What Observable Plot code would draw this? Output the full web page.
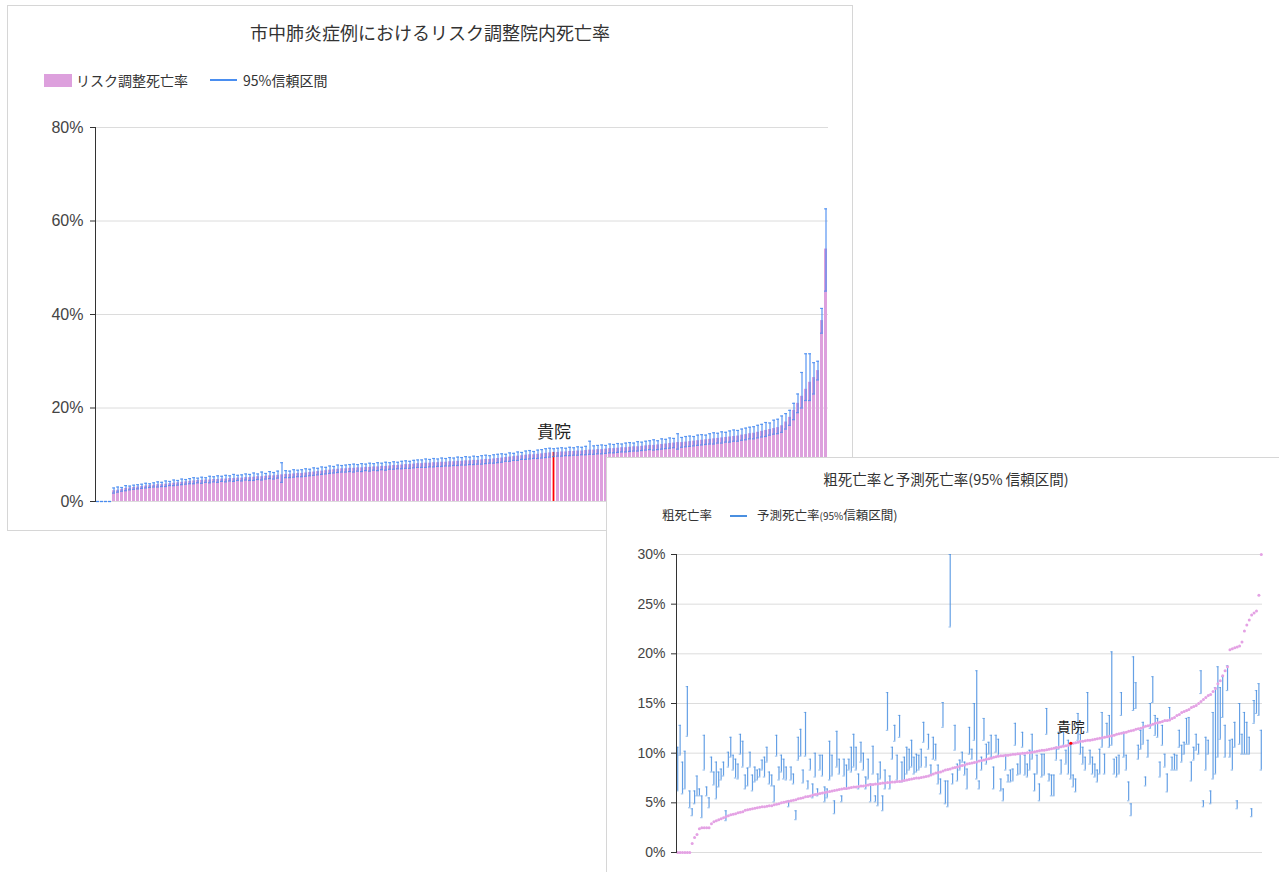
<!DOCTYPE html>
<html><head><meta charset="utf-8">
<script src="https://cdn.jsdelivr.net/npm/d3@7"></script>
<script src="https://cdn.jsdelivr.net/npm/@observablehq/plot@0.6"></script>
<style>
body{margin:0;background:#fff;font-family:"Noto Sans CJK JP","Noto Sans",sans-serif;}
#page{position:relative;width:1279px;height:872px;overflow:hidden;background:#fff;}
.card{position:absolute;background:#fff;border:1px solid #d6d6d6;box-sizing:border-box;}
.abs{position:absolute;white-space:nowrap;line-height:1;}
</style></head><body><div id="page"></div>
<script>
// ===== Chart 1: risk-adjusted in-hospital mortality (bars) with 95% CI =====
const title1 = "市中肺炎症例におけるリスク調整院内死亡率";
const legend1 = ["リスク調整死亡率", "95%信頼区間"];
const yTicks1 = [0, 20, 40, 60, 80];
const ownIndex1 = 114;
const adjRate = [
0,0,0,0,
2.3,2.4,2.6,2.8,2.9,3.0,3.1,3.2,3.3,3.4,
3.5,3.6,3.6,3.7,3.8,3.9,4.0,4.1,4.2,4.3,4.4,4.5,
4.5,4.6,4.6,4.7,4.7,4.8,4.8,4.9,4.9,5.0,5.0,5.1,5.1,
5.2,5.3,5.3,5.4,5.5,5.5,5.6,5.7,5.8,5.8,5.9,6.0,
6.0,6.1,6.2,6.3,6.4,6.5,6.6,6.7,6.8,6.9,7.0,
7.0,7.1,7.1,7.2,7.2,7.3,7.3,7.4,7.4,7.5,7.5,7.6,7.7,7.7,7.8,7.9,7.9,8.0,8.1,
8.1,8.2,8.2,8.3,8.3,8.4,8.4,8.5,8.5,8.6,8.6,8.7,8.7,8.8,8.8,8.9,9.0,9.0,9.1,9.2,
9.3,9.4,9.5,9.6,9.7,9.8,9.9,10.0,10.0,10.1,10.2,10.3,10.4,
10.5,10.5,10.6,10.6,10.7,10.7,10.8,10.8,10.9,
11.0,11.0,11.1,11.1,11.2,11.3,11.3,11.4,11.5,11.5,11.6,11.7,11.7,11.8,11.9,12.0,
12.0,12.1,12.2,12.3,12.4,12.5,12.6,12.6,12.7,12.8,12.9,13.0,
13.1,13.2,13.3,13.4,13.5,13.6,13.7,13.8,13.9,14.0,14.2,14.3,14.5,
14.6,14.8,15.0,15.2,15.4,15.6,15.8,
16.2,17.0,18.0,19.5,21.0,22.5,
24.0,25.5,26.5,28.0,38.7,54.0];
const adjHigh = [
0,0,0,0,
2.9,3.1,3.0,3.4,3.3,3.5,3.6,3.7,3.9,3.8,
4.0,4.2,4.1,4.4,4.3,4.6,4.5,4.8,4.7,4.9,5.1,5.0,
5.2,5.1,5.4,5.3,5.5,5.4,5.6,5.5,5.8,5.6,5.7,5.9,5.8,
6.1,5.9,6.3,6.0,6.4,6.2,6.5,8.3,6.6,6.5,6.8,6.7,
6.8,7.0,6.9,7.2,7.1,7.4,7.3,7.6,7.5,7.8,7.7,
7.8,7.9,8.0,7.9,8.1,8.0,8.2,8.1,8.3,8.2,8.4,8.3,8.5,8.4,8.6,8.7,8.6,8.8,8.9,
8.9,9.1,9.0,9.2,9.1,9.3,9.2,9.4,9.3,9.5,9.4,9.6,9.5,9.7,9.6,9.8,9.9,9.8,10.0,10.1,
10.2,10.1,10.4,10.3,10.6,10.5,10.8,10.9,10.7,11.0,11.1,11.3,11.4,
11.3,11.4,11.5,11.4,11.6,11.5,11.7,11.6,11.8,
12.9,11.9,12.0,12.1,12.0,12.3,12.2,12.4,12.3,12.5,12.6,12.5,12.8,12.7,12.9,13.0,
13.2,13.0,13.4,13.3,13.6,13.5,14.5,13.7,13.9,14.0,13.9,14.2,
14.3,14.2,14.5,14.7,14.6,14.9,14.8,15.1,15.3,15.2,15.5,15.7,15.9,
16.0,16.3,16.5,16.9,16.8,17.4,17.6,
18.3,18.8,19.5,21.0,23.0,27.6,
31.6,31.6,29.7,30.0,41.3,62.6];
const adjLow = [
0,0,0,0,
1.8,2.0,2.2,2.3,2.5,2.6,2.7,2.8,2.9,3.0,
3.1,3.1,3.2,3.2,3.4,3.4,3.5,3.6,3.7,3.8,3.8,4.0,
3.9,4.1,4.0,4.2,4.1,4.3,4.2,4.4,4.3,4.5,4.4,4.6,4.5,
4.5,4.7,4.6,4.8,4.9,4.8,5.0,4.1,5.1,5.1,5.2,5.3,
5.3,5.4,5.5,5.6,5.7,5.8,5.9,6.0,6.1,6.2,6.3,
6.3,6.4,6.3,6.5,6.4,6.6,6.5,6.7,6.6,6.8,6.7,6.9,6.9,7.0,7.0,7.1,7.1,7.2,7.3,
7.3,7.3,7.4,7.4,7.5,7.5,7.6,7.6,7.7,7.7,7.8,7.8,7.9,7.9,8.0,8.0,8.1,8.2,8.2,8.3,
8.4,8.6,8.6,8.8,8.8,9.0,9.0,9.1,9.2,9.2,9.3,9.4,9.5,
9.6,9.7,9.7,9.8,9.8,9.9,9.9,10.0,10.0,
10.1,10.1,10.2,10.2,10.3,10.4,10.4,10.5,10.6,10.6,10.7,10.8,10.8,10.9,11.0,11.1,
11.0,11.1,11.2,11.3,11.4,11.5,11.2,11.6,11.7,11.8,11.9,12.0,
12.1,12.2,12.3,12.3,12.5,12.5,12.7,12.7,12.9,12.9,13.1,13.2,13.4,
13.4,13.6,13.8,13.9,14.2,14.4,14.5,
14.8,15.5,16.3,17.5,19.0,20.0,
21.6,21.6,23.0,26.0,36.0,45.0];

// ===== Chart 2: crude mortality (dots) vs predicted mortality 95% CI =====
const title2 = "粗死亡率と予測死亡率(95% 信頼区間)";
const legend2 = ["粗死亡率", "予測死亡率", "(95%", "信頼区間)"];
const yTicks2 = [0, 5, 10, 15, 20, 25, 30];
const ownIndex2 = 163;
const ownLabel = "貴院";
const crudeRate = [
0,0,0,0,0,0,
0.9,1.5,1.8,2.4,
2.5,2.5,2.5,2.5,
2.9,3.1,3.2,3.3,3.4,3.5,3.6,
3.7,3.8,3.85,3.9,4.0,4.05,4.1,
4.25,4.3,4.35,4.4,4.45,4.5,4.55,4.6,4.6,4.65,4.7,4.7,
4.8,4.85,4.9,5.0,5.05,5.1,5.15,5.2,5.25,5.3,
5.4,5.45,5.5,5.6,5.65,5.7,5.8,5.85,
5.9,5.95,6.0,6.05,6.1,6.15,6.2,6.25,6.3,6.35,6.4,
6.45,6.45,6.5,6.55,6.6,6.6,6.65,6.7,6.7,6.75,6.8,
6.85,6.85,6.9,6.9,6.95,7.0,7.0,7.05,7.05,7.1,7.1,7.15,7.15,7.2,
7.25,7.3,7.35,7.4,7.45,7.5,7.5,7.55,7.6,7.65,7.7,
7.8,7.9,8.0,8.05,8.1,8.2,8.3,
8.35,8.4,8.5,8.55,8.6,8.7,8.75,8.8,8.9,8.95,9.0,
9.05,9.1,9.2,9.25,9.3,9.4,9.45,9.5,9.6,9.65,9.7,
9.75,9.75,9.8,9.8,9.85,9.9,9.9,9.95,9.95,10.0,10.0,10.05,10.05,10.1,
10.15,10.2,10.25,10.3,10.3,10.35,10.4,10.45,10.5,10.55,10.6,
10.65,10.7,10.75,10.8,11.0,11.0,11.05,11.1,11.2,
11.2,11.25,11.3,11.3,
11.35,11.4,11.45,11.5,11.55,11.6,11.65,11.7,11.75,11.8,11.9,11.95,12.0,
12.05,12.1,12.2,12.25,12.3,12.4,12.45,12.5,12.6,
12.7,12.75,12.8,12.9,13.0,13.05,13.1,13.2,13.3,13.3,13.35,
13.5,13.6,13.8,13.9,14.1,
14.2,14.3,14.4,14.6,14.7,14.8,15.0,
15.2,15.4,15.6,15.8,15.9,16.2,16.5,
17.0,17.3,17.8,18.3,18.7,20.4,20.5,20.6,20.7,20.8,21.2,22.3,22.9,23.4,23.9,24.1,24.3,25.9,30.0];
const predHigh = [
10.6,12.8,9.1,10.2,16.7,6.2,4.4,6.2,7.7,6.4,
5.7,11.8,6.6,5.5,9.6,8.1,9.1,8.1,8.4,9.1,
4.2,10.1,11.6,9.8,9.4,8.9,11.9,11.2,7.8,8.5,
10.1,7.8,8.6,8.3,8.4,9.3,9.6,10.6,8.1,7.8,
6.7,11.8,8.6,9.8,9.4,8.6,5.2,8.6,7.9,4.2,
11.6,12.4,8.3,14.1,7.2,9.4,6.9,10.0,6.4,9.8,
9.8,6.6,6.4,11.2,9.8,5.2,12.2,9.4,5.7,9.4,
8.8,9.4,10.6,11.9,10.6,7.9,11.1,10.0,7.6,9.4,
6.9,10.7,5.7,7.9,9.1,5.7,8.3,16.1,7.7,10.6,
12.8,9.8,13.8,9.1,
9.6,10.6,10.4,11.3,9.6,9.9,9.8,10.4,13.1,9.6,
11.9,8.8,11.6,10.9,8.8,7.4,15.1,7.2,7.2,30,
7.9,12.8,8.9,9.3,10.1,9.1,8.4,12.6,10.4,15,
18.3,7.2,9.6,13.5,10.9,11.1,11.8,8.6,11.8,11.4,
7.4,6.4,9.8,7.8,8.3,8.4,13,8.9,9.9,12.1,
9.8,8.9,10.3,11.9,7.9,9.8,6.9,9.9,9.9,14.5,
7.9,7.8,7.8,10.6,12.1,9.3,12.1,10.3,11.3,10.9,
7.8,7.4,14,11.9,10.6,9.6,16.1,10.3,9.6,8.9,
8.3,10.4,14.1,9.9,13,13.8,20.2,9.4,9.6,9.8,
16.1,12.1,9.8,7.1,4.9,19.7,17.1,10.8,12.3,13.1,
7.6,11.3,15,17.7,13.8,13.5,9.1,12.8,9.9,7.9,
14.6,9.6,9.9,9.8,12.3,10.8,11.1,13.5,13.6,9.1,
10.6,11.9,10.9,18.3,5.2,11.6,11.3,6.2,14.1,16.6,
18.7,16.6,17.7,12.8,18.8,11.3,11.4,13.1,5.2,15,
11.9,14.1,13.1,11.6,4.4,15.3,16.3,17,12.3];
const predLow = [
6.2,9.8,5.9,6.4,11.7,4.5,3.7,4.9,5.7,5.7,
3.5,8.3,5.7,4.5,8.1,6.8,5.4,6.6,7.3,7.7,
3.2,8.6,9.6,8.3,7.5,7.4,9.9,8.6,6.4,6.7,
8.6,6.2,7.1,7.3,7.6,8.3,7.6,9.1,6.9,6.7,
5.1,9.7,7.3,8.1,7.4,7.3,4.6,7.3,6.9,3.3,
9.3,9.7,7.0,9.7,6.4,8.3,5.5,7.6,5.7,8.3,
7.7,5.1,5.5,7.3,7.7,3.9,8.6,7.9,5.1,7.7,
6.4,8.3,8.1,8.6,8.3,6.4,9.1,8.3,6.4,7.4,
5.1,7.9,5.1,4.7,7.4,4.2,6.4,12.3,6.4,9.4,
11.2,7.3,11.6,7.1,
7.2,7.9,8.3,8.6,7.9,8.1,8.3,8.6,11.1,8.6,
10.4,7.8,9.4,9.3,6.9,5.9,12.6,4.9,4.6,22.7,
6.9,10.3,7.2,8.3,9.1,7.8,6.4,9.9,9.4,11.3,
7.4,6.4,8.3,11.3,8.9,9.9,9.6,6.4,10.1,9.8,
6.2,5.2,8.3,7.1,7.1,7.2,10.8,7.8,7.9,10.6,
7.8,7.6,8.3,9.4,6.2,7.9,5.2,7.6,7.8,11.9,
7.2,5.7,5.7,9.3,10.4,7.9,10.8,8.9,7.9,7.4,
6.6,6.1,11.3,9.9,8.9,8.3,12.1,8.9,7.9,7.6,
7.1,7.9,10.6,7.9,11.6,10.6,10.8,7.9,7.6,7.9,
13.8,9.6,8.3,5.2,3.7,14.3,14.5,9.4,10.4,10.9,
6.7,9.6,12.5,15.1,11.8,11.6,7.6,10.8,8.6,6.1,
13.3,8.3,8.3,8.3,10.6,9.1,9.9,10.9,10.9,7.2,
9.3,10.3,9.9,16,4.6,8.3,9.9,4.9,7.4,7.9,
9.6,11.4,13.6,9.6,16.3,9.6,8.3,10.6,4.4,10.9,
9.9,9.9,9.9,9.9,3.6,13,14,13.8,8.3];

// ---------- helpers ----------
const page = document.getElementById("page");
function add(html, css){const d=document.createElement("div");d.className="abs";d.innerHTML=html;Object.assign(d.style,css);page.appendChild(d);return d;}
function card(l,t,w,h){const d=document.createElement("div");d.className="card";Object.assign(d.style,{left:l+"px",top:t+"px",width:w+"px",height:h+"px"});page.appendChild(d);}
function placeSvg(svg,l,t){const w=document.createElement("div");w.style.position="absolute";w.style.left=l+"px";w.style.top=t+"px";w.appendChild(svg);page.appendChild(w);}
const PINK = "#dda0dd", BLUE1 = "#3f86f0", BLUE2 = "#4a8fe0";
const numFont = "'Liberation Sans Narrow','Liberation Sans',Arial,sans-serif";

// ---------- chart 1 ----------
card(7,5,846,526);
add(title1,{left:"0px",top:"23px",width:"860px",textAlign:"center",fontSize:"18px",color:"#333"});
add("",{left:"44px",top:"74px",width:"28px",height:"13px",background:PINK});
add(legend1[0],{left:"76px",top:"73px",fontSize:"14px",color:"#333"});
add("",{left:"210px",top:"79px",width:"27px",height:"2px",background:"#4a8ef0"});
add(legend1[1],{left:"243px",top:"73px",fontSize:"14px",color:"#333"});

const d1 = adjRate.map((v,i)=>({i, v, lo: adjLow[i], hi: adjHigh[i]}));
const own1 = d1.filter(d=>d.i===ownIndex1);
const svg1 = Plot.plot({
  width: 860, height: 430,
  marginLeft: 95, marginRight: 32, marginTop: 27, marginBottom: 29,
  style: {background:"transparent", fontFamily: numFont, color:"#444", overflow:"visible"},
  x: {type:"band", domain: d3.range(adjRate.length), padding: 0.18, axis: null},
  y: {domain:[0,80], axis: null},
  marks: [
    Plot.gridY(yTicks1, {stroke:"#dcdcdc", strokeOpacity:1}),
    Plot.barY(d1.filter(d=>d.i!==ownIndex1), {x:"i", y:"v", fill: PINK}),
    Plot.barY(own1, {x:"i", y:"v", fill:"#ff0000", insetLeft:0.6, insetRight:0.6}),
    Plot.ruleX(d1, {x:"i", y1:"lo", y2:"hi", stroke: BLUE1, strokeOpacity:0.75, strokeWidth:1.4}),
    Plot.tickY(d1, {x:"i", y:"lo", stroke: BLUE1, strokeOpacity:0.75, strokeWidth:1.2}),
    Plot.tickY(d1, {x:"i", y:"hi", stroke: BLUE1, strokeOpacity:0.75, strokeWidth:1.2}),
    Plot.text(own1, {x:"i", y:"v", text: ()=>ownLabel, dy:-20, fontSize:17, fill:"#222", fontFamily:"'Noto Sans CJK JP',sans-serif"}),
    Plot.frame({anchor:"left", stroke:"#333"}),
    Plot.axisY({ticks: yTicks1, tickFormat: d=>d+"%", tickSize:5, tickPadding:7, fontSize:16, stroke:"#333"})
  ]
});
placeSvg(svg1, 0, 100);

// ---------- chart 2 ----------
card(606,457,690,430);
add(title2,{left:"606px",top:"472px",width:"680px",textAlign:"center",fontSize:"14.5px",color:"#333"});
add(legend2[0],{left:"662px",top:"509px",fontSize:"12.5px",color:"#333"});
add("",{left:"730px",top:"515px",width:"17px",height:"2px",background:BLUE2});
add(legend2[1]+"<span style='font-size:10px'>"+legend2[2]+"</span>"+legend2[3],{left:"757px",top:"509px",fontSize:"12.5px",color:"#333"});

const d2 = crudeRate.map((v,i)=>({i, v, lo: predLow[i], hi: predHigh[i]}));
const own2 = d2.filter(d=>d.i===ownIndex2);
const svg2 = Plot.plot({
  width: 673, height: 342,
  marginLeft: 70, marginRight: 17, marginTop: 24, marginBottom: 20,
  style: {background:"transparent", fontFamily: numFont, color:"#444", overflow:"visible"},
  x: {type:"band", domain: d3.range(crudeRate.length), padding: 0, axis: null},
  y: {domain:[0,30], axis: null},
  marks: [
    Plot.gridY(yTicks2, {stroke:"#dcdcdc", strokeOpacity:1}),
    Plot.ruleX(d2, {x:"i", y1:"lo", y2:"hi", stroke: BLUE2, strokeOpacity:0.85, strokeWidth:1.2}),
    Plot.tickY(d2, {x:"i", y:"lo", stroke: BLUE2, strokeOpacity:0.6, strokeWidth:1}),
    Plot.tickY(d2, {x:"i", y:"hi", stroke: BLUE2, strokeOpacity:0.6, strokeWidth:1}),
    Plot.dot(d2.filter(d=>d.i!==ownIndex2), {x:"i", y:"v", r:1.5, fill:"#e4a2e4", stroke:null}),
    Plot.dot(own2, {x:"i", y:"v", r:1.6, fill:"#ff0000", stroke:null}),
    Plot.text(own2, {x:"i", y:"v", text: ()=>ownLabel, dy:-16, fontSize:14, fill:"#222", fontFamily:"'Noto Sans CJK JP',sans-serif"}),
    Plot.frame({anchor:"left", stroke:"#333"}),
    Plot.axisY({ticks: yTicks2, tickFormat: d=>d+"%", tickSize:5, tickPadding:6, fontSize:14, stroke:"#333"})
  ]
});
placeSvg(svg2, 606, 530);
</script></body></html>
